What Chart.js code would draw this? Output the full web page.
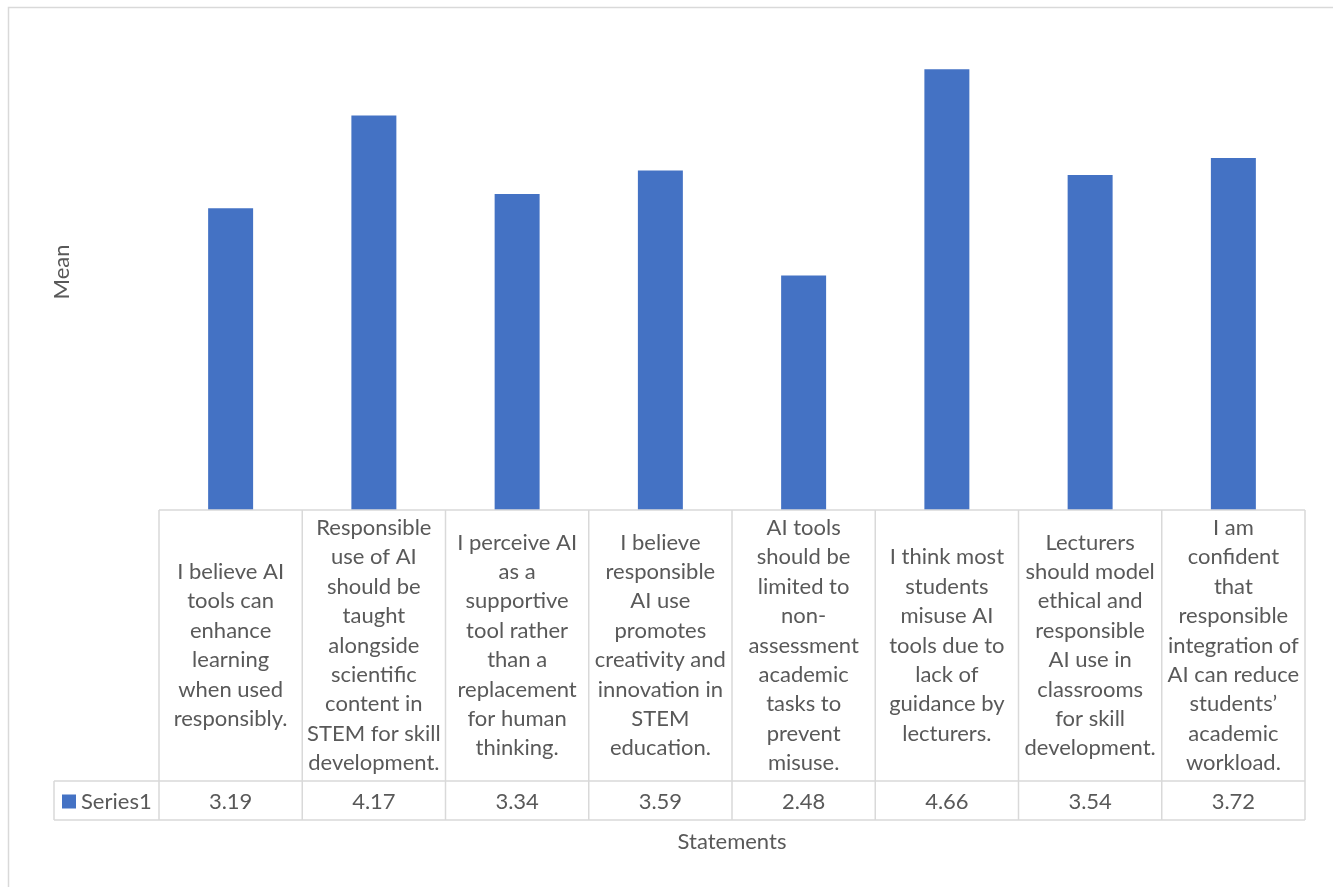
<!DOCTYPE html>
<html>
<head>
<meta charset="utf-8">
<script src="https://cdn.jsdelivr.net/npm/chart.js@4.4.1/dist/chart.umd.min.js"></script>
<style>
  html, body { margin: 0; padding: 0; background: #ffffff; }
  #wrap { width: 1333px; height: 887px; }
</style>
</head>
<body>
<div id="wrap"><canvas id="c" width="1333" height="887"></canvas></div>
<script>
// ---- data ----
const categories = [
  ["I believe AI", "tools can", "enhance", "learning", "when used", "responsibly."],
  ["Responsible", "use of AI", "should be", "taught", "alongside", "scientific", "content in", "STEM for skill", "development."],
  ["I perceive AI", "as a", "supportive", "tool rather", "than a", "replacement", "for human", "thinking."],
  ["I believe", "responsible", "AI use", "promotes", "creativity and", "innovation in", "STEM", "education."],
  ["AI tools", "should be", "limited to", "non-", "assessment", "academic", "tasks to", "prevent", "misuse."],
  ["I think most", "students", "misuse AI", "tools due to", "lack of", "guidance by", "lecturers."],
  ["Lecturers", "should model", "ethical and", "responsible", "AI use in", "classrooms", "for skill", "development."],
  ["I am", "confident", "that", "responsible", "integration of", "AI can reduce", "students\u2019", "academic", "workload."]
];
const seriesName = "Series1";
const meanValues = [3.19, 4.17, 3.34, 3.59, 2.48, 4.66, 3.54, 3.72];
const valueLabels = ["3.19", "4.17", "3.34", "3.59", "2.48", "4.66", "3.54", "3.72"];
const yAxisTitle = "Mean";
const xAxisTitle = "Statements";

// ---- styles ----
const BAR_COLOR = "#4472C4";
const TEXT_COLOR = "#595959";
const LINE_COLOR = "#D9D9D9";
const FONT = "22px Lato, 'Liberation Sans', sans-serif";

const tablePlugin = {
  id: 'dataTable',
  afterDraw(chart) {
    const ctx = chart.ctx;
    const area = chart.chartArea;
    const xs = chart.scales.x;
    const n = categories.length;
    const catW = (area.right - area.left) / n;
    const tableTop = area.bottom;
    const rowTop = 781;
    const tableBottom = 820;
    const legendLeft = 54;

    ctx.save();
    ctx.strokeStyle = LINE_COLOR;
    ctx.lineWidth = 1.5;
    ctx.beginPath();
    ctx.moveTo(8.5, 900);
    ctx.lineTo(8.5, 7.5);
    ctx.lineTo(1340, 7.5);
    ctx.stroke();

    ctx.beginPath();
    ctx.moveTo(area.left, tableTop);
    ctx.lineTo(area.right, tableTop);
    ctx.moveTo(legendLeft, rowTop);
    ctx.lineTo(area.right, rowTop);
    ctx.moveTo(legendLeft, tableBottom);
    ctx.lineTo(area.right, tableBottom);
    ctx.moveTo(legendLeft, rowTop);
    ctx.lineTo(legendLeft, tableBottom);
    for (let i = 0; i <= n; i++) {
      const x = (i < n ? xs.getPixelForValue(i) - catW / 2 : xs.getPixelForValue(n - 1) + catW / 2);
      ctx.moveTo(x, tableTop);
      ctx.lineTo(x, tableBottom);
    }
    ctx.stroke();

    ctx.fillStyle = TEXT_COLOR;
    ctx.font = FONT;
    ctx.textAlign = 'center';
    ctx.textBaseline = 'middle';
    const lh = 29.4;
    const midY = (tableTop + rowTop) / 2;
    categories.forEach((lines, i) => {
      const cx = xs.getPixelForValue(i);
      const startY = midY - (lines.length - 1) * lh / 2;
      lines.forEach((t, k) => ctx.fillText(t, cx, startY + k * lh));
    });

    const rowMid = (rowTop + tableBottom) / 2 + 1;
    valueLabels.forEach((t, i) => {
      ctx.fillText(t, xs.getPixelForValue(i), rowMid);
    });

    ctx.fillStyle = BAR_COLOR;
    ctx.fillRect(62, rowMid - 7, 14, 14);
    ctx.fillStyle = TEXT_COLOR;
    ctx.textAlign = 'left';
    ctx.fillText(seriesName, 81, rowMid);

    ctx.textAlign = 'center';
    ctx.fillText(xAxisTitle, (area.left + area.right) / 2, 842);
    ctx.translate(62, 272);
    ctx.rotate(-Math.PI / 2);
    ctx.fillText(yAxisTitle, 0, 0);
    ctx.restore();
  }
};

new Chart(document.getElementById('c'), {
  type: 'bar',
  data: {
    labels: categories,
    datasets: [{
      label: seriesName,
      data: meanValues,
      backgroundColor: BAR_COLOR,
      borderWidth: 0,
      categoryPercentage: 1.0,
      barPercentage: 0.314
    }]
  },
  options: {
    responsive: false,
    animation: false,
    layout: { padding: { left: 159, right: 28, top: 37, bottom: 377 } },
    plugins: { legend: { display: false }, tooltip: { enabled: false } },
    scales: {
      x: { display: false },
      y: { display: false, min: 0, max: 5 }
    }
  },
  plugins: [tablePlugin]
});
</script>
</body>
</html>
